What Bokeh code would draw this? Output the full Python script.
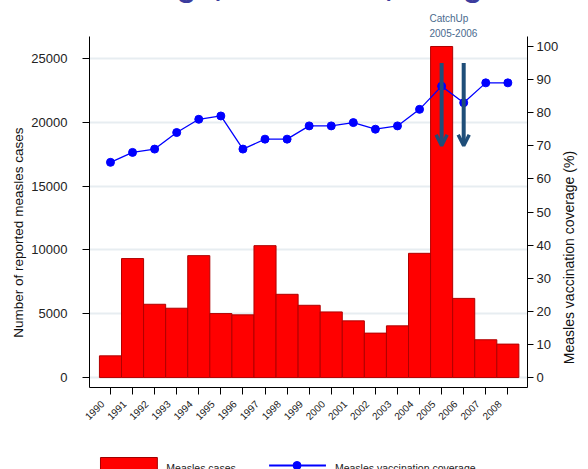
import math
from bokeh.plotting import figure
from bokeh.models import Range1d, LinearAxis, Arrow, OpenHead, NumeralTickFormatter, Title
from bokeh.layouts import column
from bokeh.core.properties import value
from bokeh.embed import file_html
from bokeh.resources import INLINE

# ---------------- data ----------------
years = list(range(1990, 2009))
year_labels = [str(y) for y in years]
measles_cases = [1700, 9320, 5740, 5430, 9550, 5010, 4910, 10330, 6520, 5660,
                 5140, 4440, 3480, 4050, 9730, 25930, 6200, 2960, 2620]
coverage = [65, 68, 69, 74, 78, 79, 69, 72, 72, 76,
            76, 77, 75, 76, 81, 88, 83, 89, 89]
catchup_years = [2005, 2006]
catchup_from = 95
catchup_to = 70
left_ticks = [0, 5000, 10000, 15000, 20000, 25000]
right_ticks = list(range(0, 101, 10))
series_names = ["Measles cases", "Measles vaccination coverage"]
title_text = "coverage, 1990-2008, Bangladesh"
annotation_lines = ["CatchUp", "2005-2006"]
left_label = "Number of reported measles cases"
right_label = "Measles vaccination coverage (%)"

# ---------------- layout ----------------
FONT = "Liberation Sans"
NBSP = "\u00a0"
W = 588
M = 40                      # part of the figure hidden above the page top
FL, FR, FT, FB = 89, 528, 34, 387   # frame edges in page px
H1 = 440 + M
H2 = 469 - 440

x0, x1 = 1989.05, 2008.89
yl0, yl1 = -779, 26713
yr0, yr1 = -3.0, 103.0

p = figure(width=W, height=H1, x_range=Range1d(x0, x1), y_range=Range1d(yl0, yl1),
           output_backend="svg", toolbar_location=None, title=None,
           min_border_left=FL, min_border_right=W - FR,
           min_border_top=FT + M, min_border_bottom=H1 - (FB + M))
p.extra_y_ranges = {"right": Range1d(yr0, yr1)}
p.outline_line_color = None
p.background_fill_color = "white"
p.border_fill_color = "white"
p.xgrid.visible = False
p.ygrid.grid_line_color = "#e7edf1"
p.ygrid.grid_line_width = 2
p.ygrid.ticker = left_ticks

# x axis (trailing no-break spaces slide each slanted label down-left of its tick)
xa = p.xaxis[0]
xa.ticker = years
xa.major_label_overrides = {y: s + NBSP * 4 for y, s in zip(years, year_labels)}
xa.major_label_orientation = math.pi / 4
xa.major_label_text_font = FONT
xa.major_label_text_font_size = "10px"
xa.major_label_text_color = "#222222"
xa.major_tick_out = 7
xa.major_tick_in = 0
xa.minor_tick_out = 0
xa.minor_tick_in = 0
xa.major_label_standoff = 0
xa.axis_line_color = "black"

# left axis
ya = p.yaxis[0]
ya.ticker = left_ticks
ya.formatter = NumeralTickFormatter(format="0")
ya.major_label_text_font = FONT
ya.major_label_text_font_size = "13px"
ya.major_label_text_color = "#222222"
ya.major_tick_out = 7
ya.major_tick_in = 0
ya.minor_tick_out = 0
ya.minor_tick_in = 0
ya.major_label_standoff = 15
ya.axis_line_color = "black"

# right axis
ra = LinearAxis(y_range_name="right", ticker=right_ticks)
ra.major_label_text_font = FONT
ra.major_label_text_font_size = "13px"
ra.major_label_text_color = "#222222"
ra.major_tick_out = 6
ra.major_tick_in = 0
ra.minor_tick_out = 0
ra.minor_tick_in = 0
ra.major_label_standoff = 3
ra.axis_line_color = "black"
ra.axis_label_text_font = FONT
ra.axis_label_text_font_size = "14px"
ra.axis_label_text_font_style = "normal"
ra.axis_label_text_color = "#111111"
ra.axis_label_standoff = 8
try:
    ra.axis_label_align = "start"
    ra.axis_label_orientation = math.pi / 2
    ra.axis_label = NBSP * 6 + right_label
except Exception:
    ra.axis_label = right_label
p.add_layout(ra, "right")

# left axis title (side title; trailing no-break spaces move it lower)
p.add_layout(Title(text=left_label + NBSP * 11, align="center", standoff=6,
                   text_font=FONT, text_font_size="13.5px", text_font_style="normal",
                   text_color="#111111"), "left")

# bars
p.vbar(x=years, top=measles_cases, bottom=0, width=1,
       fill_color="#ff0000", line_color="#b00000", line_width=1)

# coverage line
p.line(years, coverage, y_range_name="right", line_color="#0000ff", line_width=1.3)
p.scatter(years, coverage, y_range_name="right", size=8,
          fill_color="#0000ff", line_color="#0000ff")

# catch-up arrows
ARROW_C = "#1f4e79"
for yr in catchup_years:
    p.add_layout(Arrow(end=OpenHead(size=11, line_width=3.5, line_color=ARROW_C),
                       x_start=yr, y_start=catchup_from, x_end=yr, y_end=catchup_to,
                       y_range_name="right", line_width=4, line_color=ARROW_C))

# annotation text above the frame (first added = closest to frame)
p.add_layout(Title(text=annotation_lines[1], align="left", offset=340, standoff=0,
                   text_font=FONT, text_font_size="10px", text_font_style="normal",
                   text_color="#4a6a8e"), "above")
p.add_layout(Title(text=annotation_lines[0], align="left", offset=340, standoff=6,
                   text_font=FONT, text_font_size="10px", text_font_style="normal",
                   text_color="#4a6a8e"), "above")
# main title, only its lower part shows at the top of the page
p.add_layout(Title(text=title_text, align="left", offset=-16, standoff=9,
                   text_font=FONT, text_font_size="32px", text_font_style="bold",
                   text_color="#3c3c9e"), "above")

# ---------------- legend strip (frame aligned with the main frame) ----------------
p2 = figure(width=W, height=H2, x_range=Range1d(FL, FR), y_range=Range1d(469, 440),
            output_backend="svg", toolbar_location=None,
            x_axis_type=None, y_axis_type=None,
            min_border_left=FL, min_border_right=W - FR, min_border_top=0, min_border_bottom=0)
p2.outline_line_color = None
p2.xgrid.visible = False
p2.ygrid.visible = False
p2.quad(left=[100], right=[157], top=[457], bottom=[480],
        fill_color="#ff0000", line_color="#a00000", line_width=1)
p2.line([269, 326], [465, 465], line_color="#0000ff", line_width=2)
p2.scatter([297], [465], size=8, fill_color="#0000ff", line_color="#0000ff")
p2.text(x=[166, 335], y=[467, 467], text=series_names, text_font=value(FONT),
        text_font_size="10.5px", text_color="#222222",
        text_align="left", text_baseline="alphabetic")

layout = column(p, p2, margin=(-M, 0, 0, 0))

open("out.html", "w").write(file_html(layout, INLINE))
